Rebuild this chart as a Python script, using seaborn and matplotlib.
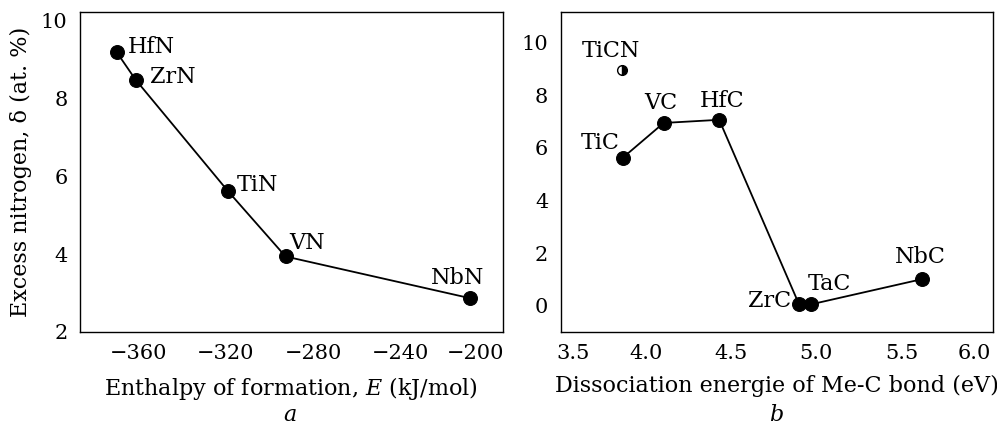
import matplotlib
matplotlib.use('Agg')
import matplotlib.pyplot as plt
import matplotlib.transforms as mtransforms
import seaborn as sns
import pandas as pd

sns.set_style('white')
plt.rcParams['font.family'] = ['DejaVu Serif']
plt.rcParams['mathtext.fontset'] = 'dejavuserif'
plt.rcParams['font.size'] = 16
plt.rcParams['text.color'] = 'black'
plt.rcParams['axes.labelcolor'] = 'black'
plt.rcParams['xtick.color'] = 'black'
plt.rcParams['ytick.color'] = 'black'

# -------------------------
# Data (a): nitrides
# -------------------------
nitrides = ['HfN', 'ZrN', 'TiN', 'VN', 'NbN']
enthalpy = [-373.7, -365.0, -322.7, -296.3, -211.9]
excess_n = [9.19, 8.48, 5.62, 3.94, 2.87]

# -------------------------
# Data (b): carbides
# -------------------------
carbides = ['TiC', 'VC', 'HfC', 'ZrC', 'TaC', 'NbC']
dissoc = [3.865, 4.104, 4.43, 4.898, 4.968, 5.62]
excess_c = [5.63, 6.95, 7.07, 0.06, 0.05, 1.01]
ticn_x, ticn_y = [3.857], [8.98]

df_a = pd.DataFrame({'name': nitrides, 'E': enthalpy, 'delta': excess_n})
df_b = pd.DataFrame({'name': carbides, 'D': dissoc, 'delta': excess_c})

fig = plt.figure(figsize=(9.97, 4.24), dpi=100)
ax1 = fig.add_axes([0.0802, 0.217, 0.4240, 0.7547])
ax2 = fig.add_axes([0.5624, 0.217, 0.4333, 0.7547])

# label offsets in pixels (dx, dy, ha)
off_a = {'HfN': (11, 5, 'left'), 'ZrN': (14, 3, 'left'), 'TiN': (9, 6, 'left'),
         'VN': (4, 13, 'left'), 'NbN': (-12, 20, 'center')}
off_b = {'TiC': (-3, 15, 'right'), 'VC': (-3, 20, 'center'), 'HfC': (3, 19, 'center'),
         'ZrC': (-8, 3, 'right'), 'TaC': (19, 20, 'center'), 'NbC': (-2, 22, 'center')}

sns.lineplot(data=df_a, x='E', y='delta', sort=False, ax=ax1, color='black',
             linewidth=1.3, marker='o', markersize=10, markeredgecolor='black')
for _, r in df_a.iterrows():
    dx, dy, ha = off_a[r['name']]
    ax1.annotate(r['name'], (r['E'], r['delta']), xytext=(dx, dy),
                 textcoords='offset pixels', ha=ha, va='center')

sns.lineplot(data=df_b, x='D', y='delta', sort=False, ax=ax2, color='black',
             linewidth=1.3, marker='o', markersize=10, markeredgecolor='black')
ax2.plot(ticn_x, ticn_y, linestyle='none', marker='o', markersize=7,
         fillstyle='right', markerfacecolor='black', markerfacecoloralt='white',
         markeredgecolor='black', markeredgewidth=1)
ax2.annotate('TiCN', (ticn_x[0], ticn_y[0]), xytext=(-11, 19),
             textcoords='offset pixels', ha='center', va='center')
for _, r in df_b.iterrows():
    dx, dy, ha = off_b[r['name']]
    ax2.annotate(r['name'], (r['D'], r['delta']), xytext=(dx, dy),
                 textcoords='offset pixels', ha=ha, va='center')

ax1.set_xlim(-390.5, -196.8)
ax1.set_ylim(2, 10.22)
ax1.set_xticks([-360, -320, -280, -240, -200])
ax1.set_yticks([2, 4, 6, 8, 10])
ax1.set_xlabel('Enthalpy of formation, $E$ (kJ/mol)', labelpad=8)
ax1.set_ylabel('Excess nitrogen, δ (at. %)', labelpad=6)

ax2.set_xlim(3.5, 6.035)
ax2.set_ylim(-1, 11.17)
ax2.set_xticks([3.5, 4.0, 4.5, 5.0, 5.5, 6.0])
ax2.set_xticklabels(['3.5', '4.0', '4.5', '5.0', '5.5', '6.0'])
ax2.set_yticks([0, 2, 4, 6, 8, 10])
ax2.set_xlabel('Dissociation energie of Me-C bond (eV)', labelpad=8)
ax2.set_ylabel('')

for ax in (ax1, ax2):
    ax.tick_params(direction='in', length=8, width=1, pad=9, labelsize=15)
    for s in ax.spines.values():
        s.set_color('black')
        s.set_linewidth(1)
    ax.grid(False)

fig.text(0.291, 0.008, 'a', style='italic', ha='center', va='baseline', fontsize=16)
fig.text(0.779, 0.008, 'b', style='italic', ha='center', va='baseline', fontsize=16)

# digits centred under ticks, edge labels pulled inside (pixel shifts)
fig.canvas.draw()
shift_a = [-8, -8, -8, -8, -20]
shift_b = [12, 0, 0, 0, 0, -12]
for ax, shifts in ((ax1, shift_a), (ax2, shift_b)):
    for lab, dx in zip(ax.get_xticklabels(), shifts):
        lab.set_transform(lab.get_transform()
                          + mtransforms.ScaledTranslation(dx / 100, 0, fig.dpi_scale_trans))

fig.savefig('out.png', dpi=100)
